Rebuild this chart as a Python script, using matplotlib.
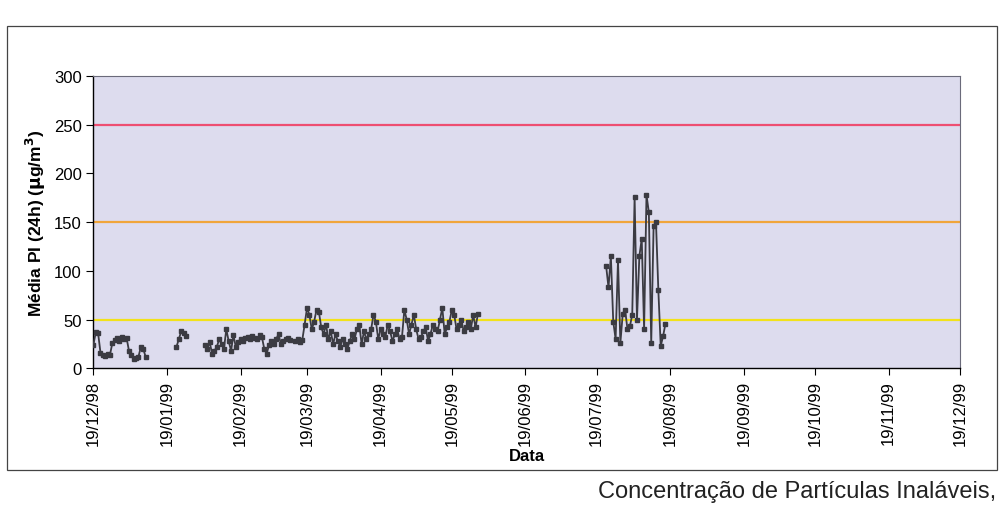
"""Média PI (24h) - recriação do gráfico digitalizado."""
import matplotlib
matplotlib.use('Agg')
import matplotlib.pyplot as plt
import matplotlib.dates as mdates
import numpy as np
import pandas as pd

plt.rcParams['font.family'] = ['Liberation Sans', 'DejaVu Sans']

# === DATA (daily 24h means, ug/m3) — gaps between blocks are missing days ===
seg1_start = '1998-12-19'
seg1 = [24, 37, 36, 16, 14, 13, 15, 14, 26, 29, 31, 28, 32, 30, 31, 18,
        14, 10, 11, 12, 22, 20, 12]

seg2_start = '1999-01-23'
seg2 = [22, 30, 38, 36, 33]

seg3_start = '1999-02-04'
seg3 = [24, 20, 27, 15, 18, 22, 30, 25, 20, 40, 28, 18, 34, 22, 27, 30,
        28, 31, 32, 30, 33, 31, 30, 34, 32, 20, 15, 24, 28, 25, 30, 35,
        25, 28, 30, 31, 29]

seg4_start = '1999-03-14'
seg4 = [28, 30, 27, 29, 45, 62,
        55, 40, 48, 60, 58, 42, 35, 45, 30, 38, 25, 35,
        28, 22, 30, 25, 20, 28, 35, 30, 40, 45, 25, 38, 30, 35, 40,
        55, 48, 30, 40, 35, 32, 45, 38, 28, 35, 40, 30, 32, 60, 50,
        35, 45, 55, 40, 30, 32, 38, 42, 28, 35, 45, 40, 38, 50, 62,
        35, 42, 48, 60, 55, 40, 45, 50, 38, 42, 48, 40, 55, 42, 56]

seg5_start = '1999-07-23'
seg5 = [105, 83, 115, 48, 30, 111, 26, 56, 60, 40, 43, 55, 176, 50, 115,
        133, 40, 178, 160, 26, 146, 150, 80, 23, 33, 46]

limits = [250, 150, 50]
limit_colors = ['#ee4f72', '#f0a53a', '#f2e21a']

tick_dates = [pd.Timestamp('1998-12-19') + pd.DateOffset(months=m) for m in range(13)]

# build a daily series with NaN for missing days
days = pd.date_range('1998-12-19', '1999-12-19', freq='D')
series = pd.Series(np.nan, index=days)
for start, vals in [(seg1_start, seg1), (seg2_start, seg2), (seg3_start, seg3),
                    (seg4_start, seg4), (seg5_start, seg5)]:
    idx = pd.date_range(start, periods=len(vals), freq='D')
    series.loc[idx] = vals

# === CHART ===
fig = plt.figure(figsize=(10.04, 5.06), dpi=100)
fig.patch.set_facecolor('white')
ax = fig.add_axes([0.093, 0.27, 0.863, 0.578])
ax.set_facecolor('#dddcee')

for lim, col in zip(limits, limit_colors):
    ax.axhline(lim, color=col, linewidth=1.6, zorder=1)

ax.plot(series.index, series.values, color='#3b3b42', linewidth=1.3,
        marker='s', markersize=3.2, zorder=3)

ax.set_ylim(0, 300)
ax.set_yticks(range(0, 301, 50))
ax.set_xlim(pd.Timestamp('1998-12-19'), pd.Timestamp('1999-12-19'))
ax.set_xticks(tick_dates)
ax.xaxis.set_major_formatter(mdates.DateFormatter('%d/%m/%y'))
ax.tick_params(axis='x', rotation=90, labelsize=12, direction='out', length=5)
ax.tick_params(axis='y', labelsize=12, direction='out', length=5)

ax.set_ylabel('Média PI (24h) ($\\mathbf{\\mu}$g/m$^\\mathbf{3}$)', fontsize=12.5,
              fontweight='bold')
ax.set_xlabel('Data', fontsize=12, fontweight='bold', labelpad=2)

for s in ['top', 'right']:
    ax.spines[s].set_color('#6a6a7a')
    ax.spines[s].set_linewidth(0.8)
for s in ['left', 'bottom']:
    ax.spines[s].set_color('black')
    ax.spines[s].set_linewidth(1.0)

# chart frame and caption from the scanned page
frame = plt.Rectangle((0.007, 0.07), 0.986, 0.877, transform=fig.transFigure,
                      fill=False, edgecolor='#444444', linewidth=0.9)
fig.patches.append(frame)
fig.text(0.992, 0.006, 'Concentração de Partículas Inaláveis,', ha='right',
         va='bottom', fontsize=17, color='#222222')

plt.savefig('out.png', dpi=100, facecolor='white')
plt.close()
